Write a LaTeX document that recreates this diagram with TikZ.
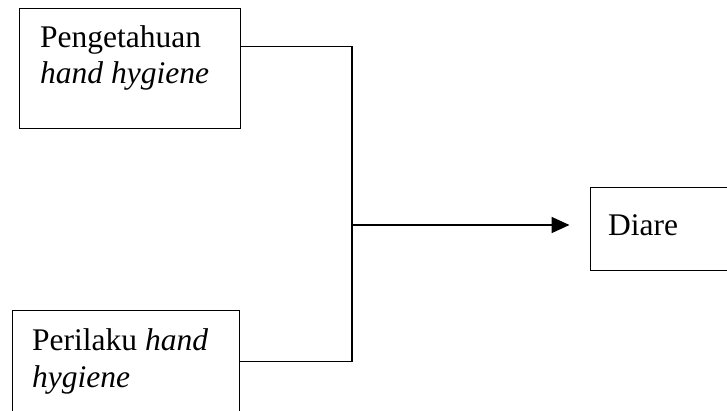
\documentclass[tikz,border=0pt]{standalone}
\usepackage{fontspec}
\setmainfont{Liberation Serif}
\usetikzlibrary{arrows.meta,calc}
\begin{document}
\begin{tikzpicture}[x=1pt,y=1pt,
  boxnode/.style={draw,line width=1pt,inner sep=0pt,minimum width=#1},
  lbl/.style={inner sep=0pt,anchor=base west,font=\fontsize{31.5}{36}\selectfont},
  conn/.style={line width=1.3pt},
  arr/.style={line width=1.8pt,-{Triangle[length=18pt,width=16pt]},shorten >=20pt}]
\useasboundingbox (0,0) rectangle (727,-410);
\clip (0,0) rectangle (727,-410);
\node[boxnode=221pt,minimum height=120pt] (b1) at (129.5,-68) {};
\node[boxnode=227pt,minimum height=120pt] (b2) at (125.5,-370) {};
\node[boxnode=150pt,minimum height=83pt] (b3) at (665,-228.5) {};
\node[lbl] (t1) at (40,-47) {Pengetahuan};
\node[lbl] (t2) at (40,-83) {\itshape hand hygiene};
\node[lbl] (t3) at (32,-350) {Perilaku \itshape hand};
\node[lbl] (t4) at (32,-387) {\itshape hygiene};
\node[lbl] (t5) at (608,-235) {Diare};
\coordinate (j) at (352,-225);
\draw[conn] ($(b1.north east)+(0,-39)$) -| (j);
\draw[conn] ($(b2.north east)+(0,-52)$) -| (j);
\draw[arr] (j) -- (b3.west |- j);
\end{tikzpicture}
\end{document}
